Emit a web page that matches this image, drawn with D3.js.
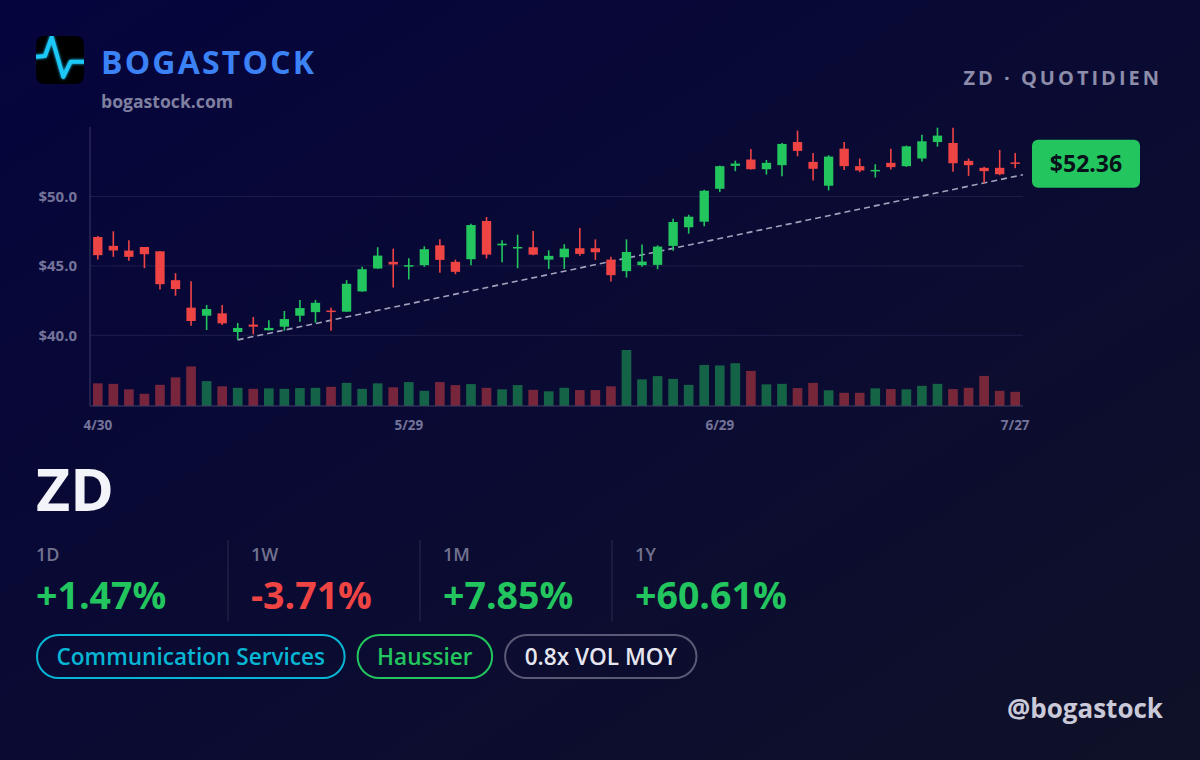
<!DOCTYPE html>
<html lang="fr">
<head>
    <meta charset="UTF-8">
    <title>ZD - Bogastock</title>
    <script src="https://d3js.org/d3.v7.min.js"></script>
    <style>
        html, body {
            margin: 0;
            padding: 0;
            background: #07073a;
        }
        svg {
            display: block;
            font-family: "Open Sans", "DejaVu Sans", sans-serif;
        }
    </style>
</head>
<body>
    <script>
        // Data (daily candles)
        const opens = [47.08, 46.44, 46.10, 46.36, 46.05, 43.97, 41.99, 41.41, 41.58, 40.24,
            40.77, 40.36, 40.62, 41.41, 41.67, 41.78, 41.70, 43.16, 44.81, 45.29,
            44.95, 45.05, 46.48, 45.29, 45.48, 48.23, 46.48, 46.27, 46.34, 45.45,
            45.62, 46.27, 46.27, 45.45, 44.62, 45.05, 45.07, 46.44, 47.78, 48.18,
            50.55, 52.20, 52.66, 51.96, 52.25, 53.92, 52.49, 50.77, 53.44, 52.18,
            51.82, 52.42, 52.18, 52.73, 53.92, 53.85, 52.56, 52.06, 52.06, 52.45];
        const highs = [47.15, 47.49, 46.84, 46.36, 46.05, 44.47, 43.90, 42.18, 42.18, 40.89,
            41.32, 41.08, 41.75, 42.54, 42.54, 41.99, 43.97, 44.93, 46.34, 46.24,
            45.55, 46.41, 46.91, 45.45, 48.04, 48.52, 46.84, 47.25, 47.51, 46.12,
            46.56, 47.73, 46.91, 45.65, 46.91, 46.53, 46.48, 48.40, 48.68, 50.48,
            52.22, 52.58, 53.42, 52.63, 53.85, 54.74, 53.13, 52.97, 53.92, 52.73,
            52.32, 53.44, 53.66, 54.45, 54.95, 54.95, 52.73, 52.13, 53.35, 53.13];
        const lows = [45.45, 45.65, 45.36, 44.83, 43.30, 42.85, 40.69, 40.38, 40.74, 39.67,
            40.07, 40.36, 40.33, 40.98, 40.91, 40.33, 41.70, 43.13, 44.78, 43.44,
            44.02, 44.93, 44.50, 44.40, 45.05, 45.53, 45.26, 44.83, 45.77, 44.78,
            44.78, 45.72, 45.43, 43.88, 44.16, 44.93, 44.76, 46.08, 47.32, 47.85,
            50.31, 51.82, 51.94, 51.58, 51.46, 52.89, 51.15, 50.43, 51.91, 51.75,
            51.36, 51.94, 52.13, 52.51, 53.58, 51.77, 51.48, 50.96, 51.53, 52.03];
        const closes = [45.77, 46.11, 45.65, 45.84, 43.68, 43.33, 41.03, 41.89, 40.86, 40.53,
            40.62, 40.53, 41.17, 41.96, 42.34, 41.70, 43.71, 44.76, 45.74, 45.10,
            45.05, 46.20, 45.43, 44.57, 47.94, 45.81, 46.60, 46.36, 45.81, 45.72,
            46.24, 45.86, 45.98, 44.33, 46.00, 45.31, 46.39, 48.16, 48.54, 50.41,
            52.18, 52.37, 51.96, 52.42, 53.78, 53.28, 51.99, 52.87, 52.18, 51.87,
            51.91, 52.11, 53.61, 53.97, 54.38, 52.39, 52.25, 51.82, 51.60, 52.36];
        // volume in millions
        const volumes = [0.91, 0.89, 0.67, 0.49, 0.85, 1.15, 1.59, 1.00, 0.79, 0.73,
            0.69, 0.71, 0.69, 0.72, 0.73, 0.77, 0.93, 0.69, 0.91, 0.75,
            0.96, 0.61, 0.96, 0.84, 0.88, 0.73, 0.67, 0.84, 0.65, 0.59,
            0.73, 0.64, 0.64, 0.79, 2.25, 1.07, 1.20, 1.09, 0.85, 1.65,
            1.63, 1.72, 1.41, 0.87, 0.89, 0.72, 0.93, 0.63, 0.53, 0.53,
            0.71, 0.68, 0.67, 0.81, 0.89, 0.68, 0.73, 1.21, 0.61, 0.57];

        const tickIndex = [0, 20, 40, 59];
        const tickLabels = ["4/30", "5/29", "6/29", "7/27"];
        const priceTicks = [40, 45, 50];

        // support line: [candle index, price]
        const trendIndex = [9, 59.5];
        const trendPrice = [39.67, 51.56];

        const statLabels = ["1D", "1W", "1M", "1Y"];
        const statValues = [1.47, -3.71, 7.85, 60.61];
        const tags = ["Communication Services", "Haussier", "0.8x VOL MOY"];

        const ticker = "ZD";
        const lastPrice = closes[closes.length - 1];

        // Set up
        const width = 1200;
        const height = 760;
        const up = "#22c55e";
        const down = "#ef4444";

        const svg = d3.select("body").append("svg")
            .attr("width", width)
            .attr("height", height);

        const defs = svg.append("defs");
        const bg = defs.append("linearGradient")
            .attr("id", "bg")
            .attr("x1", "0").attr("y1", "0")
            .attr("x2", "1").attr("y2", "1");
        bg.append("stop").attr("offset", "0%").attr("stop-color", "#05043d");
        bg.append("stop").attr("offset", "100%").attr("stop-color", "#0f1128");

        const glow = defs.append("filter").attr("id", "glow")
            .attr("x", "-50%").attr("y", "-50%").attr("width", "200%").attr("height", "200%");
        glow.append("feGaussianBlur").attr("stdDeviation", 1.6).attr("result", "b");
        const merge = glow.append("feMerge");
        merge.append("feMergeNode").attr("in", "b");
        merge.append("feMergeNode").attr("in", "SourceGraphic");

        defs.append("clipPath").attr("id", "logoClip")
            .append("rect")
            .attr("width", 48).attr("height", 48).attr("rx", 8);

        svg.append("rect")
            .attr("width", width)
            .attr("height", height)
            .attr("fill", "url(#bg)");

        // Header
        const logo = svg.append("g")
            .attr("transform", "translate(36,36)");
        logo.append("rect")
            .attr("width", 48).attr("height", 48).attr("rx", 8)
            .attr("fill", "#000");
        logo.append("g")
            .attr("clip-path", "url(#logoClip)")
            .append("path")
            .attr("d", "M-2,21 L9,20 L15.7,1 L27.3,41 L34.7,25.7 L50,25.7")
            .attr("fill", "none")
            .attr("stroke", "#1ec8f7")
            .attr("stroke-width", 4)
            .attr("stroke-linejoin", "round")
            .attr("filter", "url(#glow)");

        svg.append("text")
            .attr("x", 101).attr("y", 74)
            .attr("font-size", 32)
            .attr("font-weight", 700)
            .attr("letter-spacing", 2.2)
            .attr("fill", "#3b82f6")
            .text("BOGASTOCK");

        svg.append("text")
            .attr("x", 101).attr("y", 108)
            .attr("font-size", 17.6)
            .attr("font-weight", 700)
            .attr("fill", "#7f7fa0")
            .text("bogastock.com");

        svg.append("text")
            .attr("x", 1162).attr("y", 85)
            .attr("text-anchor", "end")
            .attr("font-size", 20)
            .attr("font-weight", 700)
            .attr("letter-spacing", 3)
            .attr("fill", "#8d8daa")
            .text(ticker + " \u00b7 QUOTIDIEN");

        // Chart
        const plotLeft = 90, plotRight = 1023, plotTop = 127, volBase = 406;

        const x = d3.scaleLinear()
            .domain([-0.5, closes.length - 0.5])
            .range([plotLeft, plotRight]);
        const step = x(1) - x(0);

        const y = d3.scaleLinear()
            .domain([40, 55])
            .range([335.3, plotTop]);

        const yv = d3.scaleLinear()
            .domain([0, d3.max(volumes)])
            .range([volBase, 350]);

        // grid
        svg.append("g")
            .selectAll("line")
            .data(priceTicks)
            .join("line")
            .attr("x1", plotLeft).attr("x2", plotRight)
            .attr("y1", d => y(d)).attr("y2", d => y(d))
            .attr("stroke", "#1f1f4c")
            .attr("stroke-width", 1);

        svg.append("g")
            .selectAll("text")
            .data(priceTicks)
            .join("text")
            .attr("x", 77)
            .attr("y", d => y(d))
            .attr("dy", "0.35em")
            .attr("text-anchor", "end")
            .attr("font-size", 15)
            .attr("font-weight", 700)
            .attr("fill", "#74749a")
            .text(d => "$" + d.toFixed(1));

        // volume bars
        const idx = d3.range(closes.length);
        const isUp = i => closes[i] >= opens[i];

        svg.append("g")
            .selectAll("rect")
            .data(idx)
            .join("rect")
            .attr("x", i => x(i) - step * 0.31)
            .attr("width", step * 0.62)
            .attr("y", i => yv(volumes[i]))
            .attr("height", i => volBase - yv(volumes[i]))
            .attr("fill", i => isUp(i) ? up : down)
            .attr("fill-opacity", 0.48);

        // axes lines
        svg.append("line")
            .attr("x1", plotLeft).attr("x2", plotLeft)
            .attr("y1", plotTop).attr("y2", volBase)
            .attr("stroke", "#3a3a66");
        svg.append("line")
            .attr("x1", plotLeft).attr("x2", plotRight)
            .attr("y1", volBase).attr("y2", volBase)
            .attr("stroke", "#3f3f66");

        // date ticks
        svg.append("g")
            .selectAll("text")
            .data(tickIndex)
            .join("text")
            .attr("x", d => x(d))
            .attr("y", 430)
            .attr("text-anchor", "middle")
            .attr("font-size", 13.5)
            .attr("font-weight", 700)
            .attr("fill", "#74749a")
            .text((d, k) => tickLabels[k]);

        // trend line
        svg.append("line")
            .attr("x1", x(trendIndex[0])).attr("y1", y(trendPrice[0]))
            .attr("x2", x(trendIndex[1])).attr("y2", y(trendPrice[1]))
            .attr("stroke", "#b4b4cc")
            .attr("stroke-opacity", 0.9)
            .attr("stroke-width", 1.6)
            .attr("stroke-dasharray", "6,4");

        // candles
        const candles = svg.append("g")
            .selectAll("g")
            .data(idx)
            .join("g");

        candles.append("line")
            .attr("x1", i => x(i)).attr("x2", i => x(i))
            .attr("y1", i => y(highs[i])).attr("y2", i => y(lows[i]))
            .attr("stroke", i => isUp(i) ? up : down)
            .attr("stroke-width", 1.6);

        candles.append("rect")
            .attr("x", i => x(i) - step * 0.3)
            .attr("width", step * 0.6)
            .attr("y", i => y(Math.max(opens[i], closes[i])))
            .attr("height", i => Math.max(1.5, Math.abs(y(opens[i]) - y(closes[i]))))
            .attr("fill", i => isUp(i) ? up : down);

        // last price badge
        const by = y(lastPrice);
        svg.append("rect")
            .attr("x", 1032).attr("y", by - 24)
            .attr("width", 108).attr("height", 48)
            .attr("rx", 6)
            .attr("fill", up);
        svg.append("text")
            .attr("x", 1086).attr("y", by)
            .attr("dy", "0.36em")
            .attr("text-anchor", "middle")
            .attr("font-size", 23)
            .attr("font-weight", 700)
            .attr("fill", "#08101a")
            .text("$" + lastPrice.toFixed(2));

        // Ticker + stats
        svg.append("text")
            .attr("x", 36).attr("y", 511)
            .attr("font-size", 59)
            .attr("font-weight", 700)
            .attr("fill", "#f3f3fa")
            .text(ticker);

        const colW = 192;
        const stats = svg.append("g")
            .selectAll("g")
            .data(statValues)
            .join("g")
            .attr("transform", (d, k) => `translate(${36 + k * colW + (k > 0 ? 23 : 0)},0)`);

        stats.filter((d, k) => k > 0)
            .append("line")
            .attr("x1", -23).attr("x2", -23)
            .attr("y1", 540).attr("y2", 621)
            .attr("stroke", "#2a2a4c");

        stats.append("text")
            .attr("y", 561)
            .attr("font-size", 18)
            .attr("font-weight", 600)
            .attr("fill", "#72728e")
            .text((d, k) => statLabels[k]);

        stats.append("text")
            .attr("y", 609)
            .attr("font-size", 37.5)
            .attr("font-weight", 700)
            .attr("fill", d => d >= 0 ? up : down)
            .text(d => (d >= 0 ? "+" : "") + d.toFixed(2) + "%");

        // Tags
        const tagColors = ["#06b6d4", up, "#5a5a76"];
        const tagText = ["#06b6d4", up, "#e6e6f0"];
        let tx = 36;
        tags.forEach((t, k) => {
            const g = svg.append("g");
            const label = g.append("text")
                .attr("y", 657)
                .attr("dy", "0.35em")
                .attr("text-anchor", "middle")
                .attr("font-size", 22.6)
                .attr("font-weight", 600)
                .attr("fill", tagText[k])
                .text(t);
            const w = label.node().getComputedTextLength() + 41;
            g.insert("rect", "text")
                .attr("x", tx + 1).attr("y", 635)
                .attr("width", w - 2).attr("height", 43)
                .attr("rx", 21.5)
                .attr("fill", "none")
                .attr("stroke", tagColors[k])
                .attr("stroke-width", 2);
            label.attr("x", tx + w / 2);
            tx += w + 11;
        });

        svg.append("text")
            .attr("x", 1163).attr("y", 718)
            .attr("text-anchor", "end")
            .attr("font-size", 26)
            .attr("font-weight", 700)
            .attr("fill", "#c9c9d8")
            .text("@bogastock");
    </script>
</body>
</html>
